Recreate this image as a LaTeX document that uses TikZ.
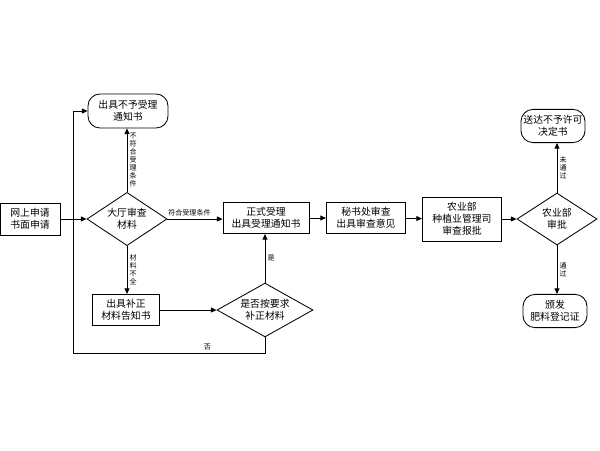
\documentclass[tikz,border=0pt]{standalone}
\usepackage{fontspec}
\usepackage{tikz}
\usetikzlibrary{shapes.geometric,arrows.meta,calc}
\newfontfamily\cjk{Noto Sans CJK SC}
\tikzset{
  nd_box/.style={rectangle,draw=black,line width=0.6pt,align=center,inner sep=1pt,font=\cjk\fontsize{7}{8.5}\selectfont},
  nd_end/.style={nd_box,rounded corners=0.3cm},
  nd_dec/.style={diamond,aspect=1.5,draw=black,line width=0.6pt,align=center,inner sep=0pt,font=\cjk\fontsize{7}{8.5}\selectfont},
  arr/.style={-{Triangle[length=4pt,width=3.5pt]},line width=0.6pt},
  lbl/.style={font=\cjk\fontsize{5}{5.7}\selectfont,align=center,inner sep=1.5pt},
}
\begin{document}
\begin{tikzpicture}[x=0.025cm,y=-0.025cm]
\useasboundingbox (0,0) rectangle (600,450);

% left part
\node[nd_box,minimum width=1.5cm,minimum height=0.8cm] at (30,219) (IN){网上申请\\书面申请};
\node[nd_dec,minimum width=2cm,minimum height=1.33cm] at (127,219) (D1){大厅审查\\材料};
\node[nd_end,minimum width=2cm,minimum height=0.85cm] at (128,111) (E1){出具不予受理\\通知书};
\node[nd_box,minimum width=1.68cm,minimum height=0.78cm] at (126,310) (B1){出具补正\\材料告知书};
\node[nd_dec,minimum width=2.4cm,minimum height=1.33cm] at (265,310) (D2){是否按要求\\补正材料};
\coordinate (C1) at (73,353);

% main line
\node[nd_box,minimum width=2.15cm,minimum height=0.78cm] at (266,218) (B2){正式受理\\出具受理通知书};
\node[nd_box,minimum width=1.98cm,minimum height=0.78cm] at (366,218) (B3){秘书处审查\\出具审查意见};
\node[nd_box,minimum width=1.98cm,minimum height=1.1cm] at (462,219) (B4){农业部\\种植业管理司\\审查报批};
\node[nd_dec,minimum width=2cm,minimum height=1.3cm] at (557,219) (D3){农业部\\审批};
\node[nd_end,minimum width=1.6cm,minimum height=0.83cm] at (553,126) (E2){送达不予许可\\决定书};
\node[nd_end,minimum width=1.6cm,minimum height=0.83cm] at (555,311) (E3){颁发\\肥料登记证};

\draw[arr](IN)--(D1);
\draw[arr](D1.north)--node[lbl,right]{不\\符\\合\\受\\理\\条\\件}(D1.north|-E1.south);
\draw[arr](D1.east)--node[lbl,above,pos=0.4]{符合受理条件}(B2.west|-D1.east);
\draw[arr](D1.south)--node[lbl,right]{材\\料\\不\\全}(D1.south|-B1.north);
\draw[arr](B1)--(D2);
\draw[arr](D2.north)--node[lbl,right]{是}(D2.north|-B2.south);
\draw[arr](D2.south)|-node[lbl,above,pos=0.65]{否}(C1)|-(E1.west);
\draw[arr](B2)--(B3);
\draw[arr](B3)--(B4);
\draw[arr](B4)--(D3);
\draw[arr](D3.north)--node[lbl,right]{未\\通\\过}(D3.north|-E2.south);
\draw[arr](D3.south)--node[lbl,right]{通\\过}(D3.south|-E3.north);

\end{tikzpicture}
\end{document}
